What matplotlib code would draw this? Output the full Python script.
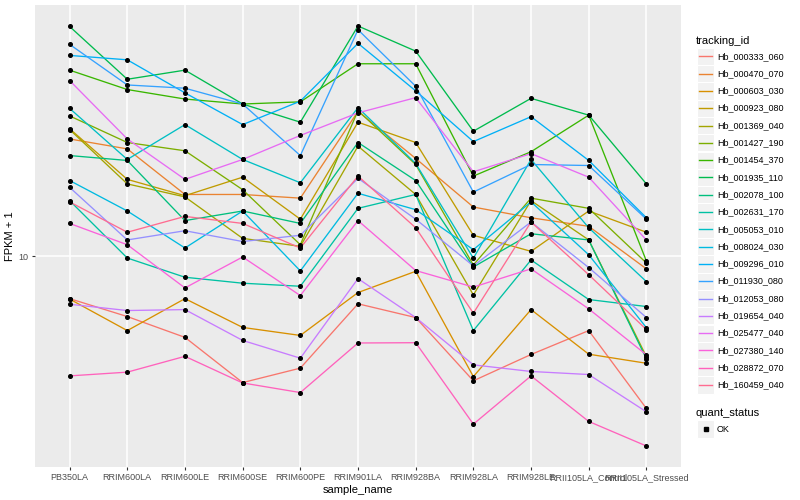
import numpy as np
import matplotlib
matplotlib.use("Agg")
import matplotlib.pyplot as plt
from matplotlib.patches import Rectangle
from matplotlib.ticker import NullLocator

plt.rcParams['font.family'] = ['Liberation Sans', 'DejaVu Sans']

samples = ["PB350LA", "RRIM600LA", "RRIM600LE", "RRIM600SE", "RRIM600PE",
           "RRIM901LA", "RRIM928BA", "RRIM928LA", "RRIM928LE",
           "RRII105LA_Control", "RRII105LA_Stressed"]

tracking_ids = ["Hb_000333_060", "Hb_000470_070", "Hb_000603_030", "Hb_000923_080",
                "Hb_001369_040", "Hb_001427_190", "Hb_001454_370", "Hb_001935_110",
                "Hb_002078_100", "Hb_002631_170", "Hb_005053_010", "Hb_008024_030",
                "Hb_009296_010", "Hb_011930_080", "Hb_012053_080", "Hb_019654_040",
                "Hb_025477_040", "Hb_027380_140", "Hb_028872_070", "Hb_160459_040"]

colors = ["#F8766D", "#EA8331", "#D89000", "#C09B00", "#A3A500", "#7CAE00",
          "#39B600", "#00BB4E", "#00BF7D", "#00C1A3", "#00BFC4", "#00BAE0",
          "#00B0F6", "#35A2FF", "#9590FF", "#C77CFF", "#E76BF3", "#FA62DB",
          "#FF62BC", "#FF6C91"]

# FPKM + 1 per sample (same order as `samples`)
Hb_000333_060 = [7.84, 7.07, 6.27, 4.83, 5.25, 7.61, 7.03, 4.88, 5.68, 6.52, 4.16]
Hb_000470_070 = [19.7, 18.6, 14.3, 14.3, 14.0, 23.1, 17.6, 13.3, 12.5, 11.9, 9.31]
Hb_000603_030 = [7.82, 6.52, 7.84, 6.64, 6.34, 8.12, 9.18, 5.00, 7.36, 5.69, 5.40]
Hb_000923_080 = [20.9, 15.6, 14.2, 15.8, 12.4, 21.7, 19.3, 11.3, 10.3, 13.0, 11.5]
Hb_001369_040 = [20.8, 15.2, 14.1, 11.1, 10.6, 18.9, 14.3, 8.01, 13.8, 11.0, 5.61]
Hb_001427_190 = [22.5, 19.3, 18.4, 14.7, 10.7, 23.2, 17.0, 9.52, 14.0, 13.2, 9.63]
Hb_001454_370 = [29.3, 26.2, 24.8, 24.1, 24.4, 30.4, 30.4, 15.9, 18.3, 22.6, 9.74]
Hb_001935_110 = [37.7, 27.8, 29.3, 24.1, 21.7, 37.8, 32.7, 20.6, 24.9, 22.6, 15.2]
Hb_002078_100 = [17.9, 17.4, 12.3, 13.0, 12.1, 19.3, 15.5, 9.41, 11.4, 11.0, 5.54]
Hb_002631_170 = [13.8, 9.91, 8.87, 8.57, 8.42, 13.2, 14.3, 6.52, 9.80, 7.80, 7.49]
Hb_005053_010 = [23.5, 17.5, 21.4, 17.5, 15.3, 23.6, 17.1, 9.90, 17.5, 11.8, 8.65]
Hb_008024_030 = [15.5, 13.0, 10.5, 13.0, 9.20, 14.4, 13.1, 10.4, 13.7, 10.1, 6.63]
Hb_009296_010 = [31.9, 31.1, 25.7, 21.4, 24.5, 34.2, 26.0, 19.4, 22.4, 17.4, 12.5]
Hb_011930_080 = [34.0, 26.9, 26.4, 24.1, 17.9, 37.0, 26.7, 14.5, 17.0, 16.9, 12.4]
Hb_012053_080 = [14.9, 11.0, 11.6, 10.9, 11.3, 15.7, 12.4, 9.47, 12.2, 9.38, 7.03]
Hb_019654_040 = [7.59, 7.32, 7.36, 6.16, 5.56, 8.80, 7.03, 5.35, 5.15, 5.06, 4.08]
Hb_025477_040 = [27.6, 19.7, 15.6, 17.5, 20.1, 22.9, 25.0, 16.3, 18.1, 15.8, 11.0]
Hb_027380_140 = [12.1, 10.7, 8.34, 9.97, 7.98, 12.3, 9.22, 8.38, 9.31, 7.39, 5.67]
Hb_028872_070 = [5.02, 5.13, 5.62, 4.82, 4.56, 6.07, 6.08, 3.80, 5.02, 3.86, 3.35]
Hb_160459_040 = [13.7, 11.5, 12.6, 12.1, 10.5, 15.9, 11.8, 7.21, 12.2, 9.00, 6.56]

series = [Hb_000333_060, Hb_000470_070, Hb_000603_030, Hb_000923_080,
          Hb_001369_040, Hb_001427_190, Hb_001454_370, Hb_001935_110,
          Hb_002078_100, Hb_002631_170, Hb_005053_010, Hb_008024_030,
          Hb_009296_010, Hb_011930_080, Hb_012053_080, Hb_019654_040,
          Hb_025477_040, Hb_027380_140, Hb_028872_070, Hb_160459_040]

W, H = 800, 500
fig = plt.figure(figsize=(8, 5), dpi=100)
fig.patch.set_facecolor("white")

pl, pr, pt, pb = 35, 681, 5, 467
ax = fig.add_axes([pl / W, 1 - pb / H, (pr - pl) / W, (pb - pt) / H])
ax.set_facecolor("#EBEBEB")

x = np.arange(len(samples))
for vals, col in zip(series, colors):
    ax.plot(x, vals, color=col, lw=0.95, zorder=3, solid_capstyle="round")
for vals in series:
    ax.plot(x, vals, ls="none", marker="o", ms=2.6, color="black", zorder=4)

ax.set_yscale("log")
allv = np.concatenate([np.asarray(s, float) for s in series])
lo, hi = np.log10(allv.min()), np.log10(allv.max())
pad = 0.05 * (hi - lo)
ax.set_ylim(10 ** (lo - pad), 10 ** (hi + pad))
ax.set_xlim(-0.6, len(samples) - 1 + 0.6)

ax.set_yticks([10])
ax.set_yticklabels(["10"])
ax.yaxis.set_minor_locator(NullLocator())
ax.set_xticks(x)
ax.set_xticklabels(samples)
ax.grid(True, which="major", color="white", lw=1.1, zorder=0)
ax.set_axisbelow(True)
for s in ax.spines.values():
    s.set_visible(False)
ax.tick_params(axis="both", length=2.5, width=0.8, color="#333333",
               labelsize=6.5, labelcolor="#4D4D4D", pad=2)

ax.set_xlabel("sample_name", fontsize=8, labelpad=2)
ax.set_ylabel("FPKM + 1", fontsize=8, labelpad=3)

# legend drawn in pixel coordinates
lax = fig.add_axes([0, 0, 1, 1])
lax.set_xlim(0, W)
lax.set_ylim(H, 0)
lax.axis("off")

lax.text(696, 40.7, "tracking_id", fontsize=8, va="center", ha="left")
y0, dy = 56.3, 17.3
for i, (tid, col) in enumerate(zip(tracking_ids, colors)):
    yc = y0 + i * dy
    lax.add_patch(Rectangle((697, yc - 8.6), 17.2, 17.2, facecolor="#F2F2F2",
                            edgecolor="white", lw=0.8))
    lax.plot([699, 712], [yc, yc], color=col, lw=1.0)
    lax.text(717, yc, tid, fontsize=6.5, va="center", ha="left")

lax.text(696, 412.7, "quant_status", fontsize=8, va="center", ha="left")
lax.add_patch(Rectangle((697, 429 - 8.6), 17.2, 17.2, facecolor="#F2F2F2",
                        edgecolor="white", lw=0.8))
lax.plot([705.5], [429], ls="none", marker="s", ms=2.4, color="black")
lax.text(717, 429, "OK", fontsize=6.5, va="center", ha="left")

fig.savefig("out.png", dpi=100)
